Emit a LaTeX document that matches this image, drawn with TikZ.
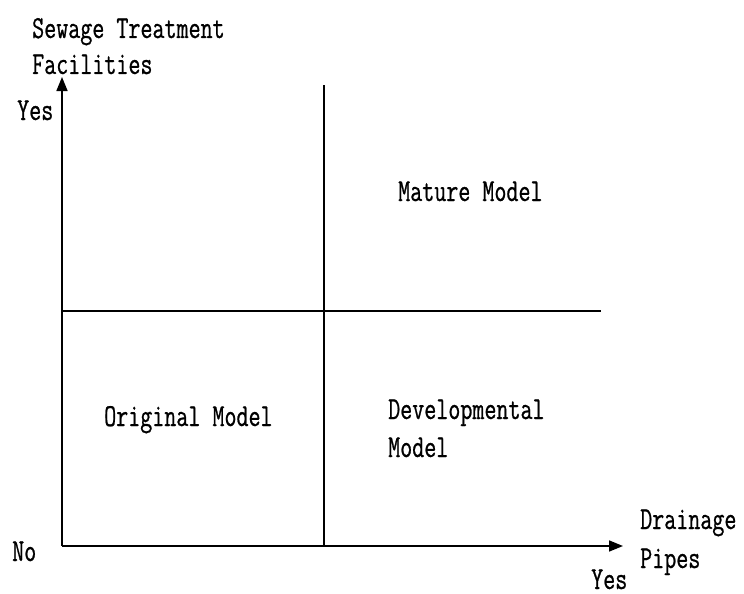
\documentclass[tikz,border=0pt]{standalone}
\usepackage{fontspec}
\setmonofont[FakeStretch=0.73,FakeBold=0.7]{Latin Modern Mono}
\usetikzlibrary{arrows.meta}

\tikzset{
  lbl/.style={anchor=base west,inner sep=0pt,font=\ttfamily\fontsize{32}{34}\selectfont},
  axis/.style={line width=1.6pt,-{Triangle[length=14pt,width=11pt]}},
  grid line/.style={line width=1.6pt}
}

\begin{document}
\begin{tikzpicture}[x=1pt,y=-1pt]
  \useasboundingbox (0,0) rectangle (744,594);
  % axes and the two dividing lines
  \coordinate (O) at (62,546);
  \coordinate (ytop) at (62,77);
  \coordinate (xend) at (623,546);
  \coordinate (vtop) at (324,85);
  \coordinate (vbot) at (324,546);
  \coordinate (hleft) at (62,311);
  \coordinate (hright) at (601,311);
  \draw[axis] (O) -- (ytop);
  \draw[axis] (O) -- (xend);
  \draw[grid line] (vtop) -- (vbot);
  \draw[grid line] (hleft) -- (hright);
  % axis labels
  \node[lbl] (ytitle1) at (32,38) {Sewage Treatment};
  \node[lbl] (ytitle2) at (32,74) {Facilities};
  \node[lbl] (yyes) at (17,120) {Yes};
  \node[lbl] (origin) at (12,561) {No};
  \node[lbl] (xtitle1) at (640,529) {Drainage};
  \node[lbl] (xtitle2) at (640,568) {Pipes};
  \node[lbl] (xyes) at (591,589) {Yes};
  % quadrants
  \node[lbl] (mature) at (398,201) {Mature Model};
  \node[lbl] (original) at (104,426) {Original Model};
  \node[lbl] (devel1) at (388,419) {Developmental};
  \node[lbl] (devel2) at (388,457) {Model};
\end{tikzpicture}
\end{document}
